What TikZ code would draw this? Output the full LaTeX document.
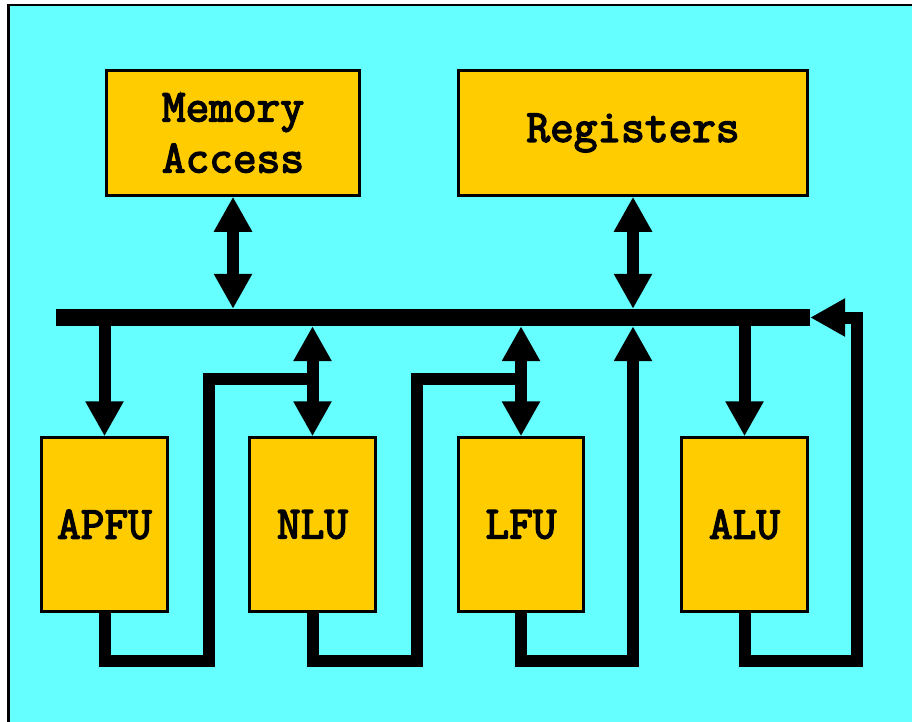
\documentclass[tikz,border=0pt]{standalone}
\usepackage{fontspec}
\newfontfamily\unitfont{Latin Modern Mono}[FakeBold=3.2]
\usetikzlibrary{arrows.meta}
\definecolor{panel}{HTML}{66FFFF}
\definecolor{unit}{HTML}{FFCC00}
\begin{document}
\begin{tikzpicture}[x=1pt,y=-1pt,
  box/.style={draw=black, line width=2.5pt, fill=unit, inner sep=0pt,
    font=\unitfont\fontsize{46}{51}\selectfont, align=center},
  wire/.style={line width=12pt, line join=miter},
  big/.tip={Triangle[width=36pt,length=35pt]}]
\useasboundingbox (0,0) rectangle (912,722);
\fill[white] (0,0) rectangle (912,722);
\clip (0,0) rectangle (912,722);
% panel
\draw[fill=panel, line width=2.5pt] (8.5,5) rectangle (940,750);

% upper units
\node[box, minimum width=253pt, minimum height=125pt] (mem) at (233,133) {Memory\\Access};
\node[box, minimum width=349pt, minimum height=125pt] (reg) at (633,133) {Registers};

% functional units
\node[box, minimum width=126pt, minimum height=174pt] (apfu) at (104.5,524.5) {APFU};
\node[box, minimum width=126pt, minimum height=174pt] (nlu)  at (312.5,524.5) {NLU};
\node[box, minimum width=125pt, minimum height=174pt] (lfu)  at (521,524.5) {LFU};
\node[box, minimum width=126pt, minimum height=174pt] (alu)  at (744.5,524.5) {ALU};

% bus
\node[fill=black, inner sep=0pt, minimum width=754pt, minimum height=17pt] (bus) at (433,317.5) {};

% bus <-> memory / registers
\draw[wire, {big}-{big}] (mem.south) -- (bus.north -| mem.south);
\draw[wire, {big}-{big}] (reg.south) -- (bus.north -| reg.south);

% bus -> units
\draw[wire, -{big}] (bus.south -| apfu.north) -- (apfu.north);
\draw[wire, {big}-{big}] (bus.south -| nlu.north) -- (nlu.north);
\draw[wire, {big}-{big}] (bus.south -| lfu.north) -- (lfu.north);
\draw[wire, -{big}] (bus.south -| alu.north) -- (alu.north);

% result paths
\coordinate (a1) at (209,661);
\coordinate (j1) at (312.5,379);
\coordinate (n1) at (417,661);
\coordinate (j2) at (521,379);
\coordinate (l1) at (633,661);
\coordinate (r1) at (857,661);

\draw[wire] (apfu.south) |- (a1) |- (j1);
\draw[wire] (nlu.south) |- (n1) |- (j2);
\draw[wire, -{big}] (lfu.south) |- (l1) -- (bus.south -| l1);
\draw[wire, -{big}] (alu.south) |- (r1) |- (bus.east);
\end{tikzpicture}
\end{document}
